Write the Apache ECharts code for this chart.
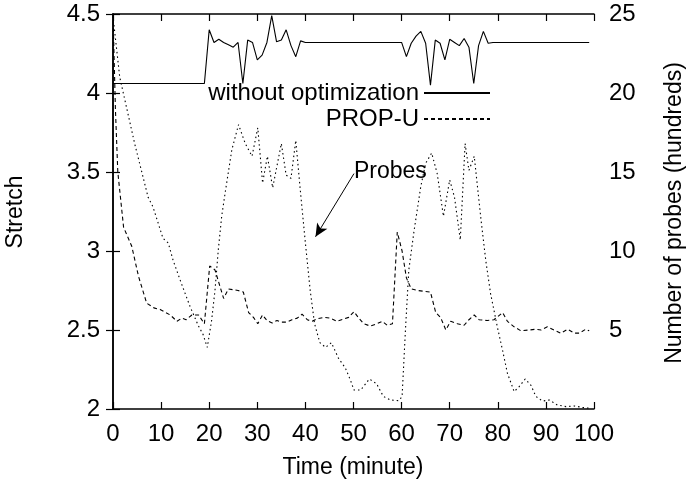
<!DOCTYPE html>
<html>
<head>
<meta charset="utf-8">
<script src="https://cdn.jsdelivr.net/npm/echarts@6/dist/echarts.min.js"></script>
<style>html,body{margin:0;padding:0;background:#fff;}#c{width:689px;height:485px;}</style>
</head>
<body>
<div id="c"></div>
<script>
// ---- data ----
var xTickLabels = ['0','10','20','30','40','50','60','70','80','90','100'];
var yTickLabels = ['2','2.5','3','3.5','4','4.5'];
var y2TickLabels = ['','5','10','15','20','25'];

// "without optimization" (left axis, Stretch)
var timeNoOpt = [0, 19, 20, 21, 22, 23, 24, 25, 26, 27, 28, 29, 30, 31, 32, 33, 34, 35, 36, 37, 38, 39, 40,
  60, 61, 62, 63, 64, 65, 66, 67, 68, 69, 70, 71, 72, 73, 74, 75, 76, 77, 78, 79, 99];
var stretchNoOpt = [4.06, 4.06, 4.40, 4.32, 4.34, 4.32, 4.305, 4.29, 4.32, 4.06, 4.335, 4.32, 4.21, 4.24, 4.32, 4.49, 4.325, 4.335, 4.40, 4.30, 4.23, 4.33, 4.32,
  4.32, 4.23, 4.315, 4.36, 4.39, 4.315, 4.05, 4.335, 4.315, 4.21, 4.34, 4.32, 4.30, 4.345, 4.29, 4.06, 4.30, 4.39, 4.315, 4.32, 4.32];

// "PROP-U" (left axis, Stretch)
var timePropU = [0, 0.5, 1, 2.2, 3.9, 5.3, 7, 8.5, 9.8, 11.9, 13.3, 14.3, 15.2, 16.4, 17.8, 19, 20.1, 21.2, 23, 24, 26, 27.1,
  28.2, 29.2, 30.1, 31.1, 32, 33.1, 34.1, 35.1, 36.2, 37.2, 38.3, 39.3, 40.4, 41.4, 42.4, 43.8, 45.2, 46.6, 48, 49, 50.1,
  51.1, 52.1, 53.5, 54.9, 56, 57, 58.1, 59.1, 60.1, 61, 62, 63.3, 66, 67.1, 68.1, 69.2, 70.2, 71.6, 73, 74, 75.1, 76.1,
  77.8, 79.2, 81, 82, 83.4, 84.8, 86.5, 87.9, 89, 90.3, 91.7, 93.1, 94.5, 95.9, 96.9, 98.3, 99];
var stretchPropU = [4.5, 3.9, 3.5, 3.15, 3.03, 2.84, 2.67, 2.64, 2.63, 2.595, 2.555, 2.575, 2.565, 2.595, 2.595, 2.54, 2.905, 2.88, 2.70, 2.76, 2.75, 2.74,
  2.61, 2.58, 2.54, 2.595, 2.56, 2.545, 2.56, 2.55, 2.55, 2.565, 2.575, 2.60, 2.565, 2.555, 2.57, 2.58, 2.575, 2.555, 2.57, 2.58, 2.616,
  2.575, 2.54, 2.525, 2.54, 2.555, 2.53, 2.54, 3.12, 3.0, 2.83, 2.76, 2.75, 2.74, 2.61, 2.58, 2.5, 2.555, 2.54, 2.53, 2.565, 2.595, 2.565,
  2.56, 2.565, 2.61, 2.555, 2.52, 2.495, 2.50, 2.505, 2.50, 2.52, 2.50, 2.48, 2.505, 2.48, 2.48, 2.505, 2.495];

// "Probes" (right axis, hundreds)
var timeProbes = [0.2, 1.4, 3.1, 4.5, 5.9, 7.3, 8.3, 10.4, 11.5, 12.5, 14.2, 16, 17.7, 18.75, 19.6, 20.5, 21.2, 21.9, 22.6, 23.3,
  24.7, 26.1, 27.5, 28.9, 30.1, 31.1, 32.1, 33.2, 35, 36, 37, 38, 39, 40, 41, 41.9, 43, 44.2, 45.4, 46.9, 48.3, 49.4, 50.1,
  51.5, 53.3, 54.8, 56.2, 57.7, 59.4, 60.1, 60.8, 61.5, 62.6, 64, 65, 66.25, 67.4, 68.7, 70, 71, 72.2, 73.2, 74, 75.1, 76.5,
  77.5, 78.5, 79.9, 81, 82, 83.4, 84.4, 85.7, 86.9, 87.9, 89.3, 90.7, 92.4, 94.2, 95.9, 97.6, 99];
var probesHundreds = [24.3, 21.0, 18.7, 16.8, 15.1, 13.4, 12.8, 10.8, 10.5, 9.4, 7.96, 6.5, 5.3, 4.7, 3.9, 5.6, 7.5, 10.1, 12.2, 13.65,
  16.4, 18.0, 16.8, 16.0, 17.8, 14.3, 16.0, 14.0, 16.8, 14.8, 14.6, 17.0, 13.65, 10.5, 7.5, 5.4, 4.2, 3.9, 4.2, 3.2, 2.6, 1.8, 1.2,
  1.2, 1.9, 1.6, 0.8, 0.57, 0.53, 0.78, 5.0, 8.8, 11.3, 14.1, 15.55, 16.2, 14.9, 12.2, 14.5, 13.4, 10.7, 16.8, 15.1, 16.0, 12.0,
  9.4, 7.3, 5.2, 3.7, 2.26, 1.1, 1.4, 1.9, 1.5, 0.8, 0.5, 0.57, 0.25, 0.15, 0.19, 0.1, 0.05];

// annotation arrow (data coordinates, left axis)
var arrowFrom = [50.1, 3.49];
var arrowTo = [42.1, 3.09];

function pairs(xs, ys) { return xs.map(function (x, i) { return [x, ys[i]]; }); }

var FONT = 'Liberation Sans';
var AX = { color: '#000', width: 1.5 };

var chart = echarts.init(document.getElementById('c'), null, { renderer: 'canvas' });
chart.setOption({
  backgroundColor: '#fff',
  animation: false,
  grid: { left: 113, right: 95, top: 14, bottom: 76 },
  legend: {
    data: ['without optimization', 'PROP-U'],
    orient: 'vertical',
    align: 'right',
    right: 198,
    top: 81,
    padding: 0,
    itemWidth: 66,
    itemHeight: 14,
    itemGap: 2,
    itemStyle: { color: 'rgba(0,0,0,0)', borderColor: 'rgba(0,0,0,0)', borderWidth: 0 },
    textStyle: { fontFamily: FONT, fontSize: 24, color: '#000' }
  },
  xAxis: [{
    type: 'value', min: 0, max: 100, interval: 10, position: 'bottom',
    axisLine: { show: true, lineStyle: AX },
    axisTick: { show: true, inside: true, length: 7, lineStyle: { color: '#000', width: 1.2 } },
    axisLabel: { fontFamily: FONT, fontSize: 24, color: '#000', margin: 13,
      formatter: function (v) { return xTickLabels[Math.round(v / 10)]; } },
    splitLine: { show: false }
  }, {
    type: 'value', min: 0, max: 100, interval: 10, position: 'top',
    axisLine: { show: true, lineStyle: AX },
    axisTick: { show: true, inside: true, length: 7, lineStyle: { color: '#000', width: 1.2 } },
    axisLabel: { show: false },
    splitLine: { show: false }
  }],
  yAxis: [{
    type: 'value', min: 2, max: 4.5, interval: 0.5, position: 'left',
    axisLine: { show: true, lineStyle: AX },
    axisTick: { show: true, inside: true, length: 7, lineStyle: { color: '#000', width: 1.2 } },
    axisLabel: { fontFamily: FONT, fontSize: 24, color: '#000', margin: 13,
      formatter: function (v) { return yTickLabels[Math.round((v - 2) / 0.5)]; } },
    splitLine: { show: false }
  }, {
    type: 'value', min: 0, max: 25, interval: 5, position: 'right',
    axisLine: { show: true, lineStyle: AX },
    axisTick: { show: true, inside: true, length: 7, lineStyle: { color: '#000', width: 1.2 } },
    axisLabel: { fontFamily: FONT, fontSize: 24, color: '#000', margin: 15,
      formatter: function (v) { return y2TickLabels[Math.round(v / 5)]; } },
    splitLine: { show: false }
  }],
  series: [{
    name: 'without optimization', type: 'line', xAxisIndex: 0, yAxisIndex: 0,
    data: pairs(timeNoOpt, stretchNoOpt), symbol: 'none', showSymbol: false,
    lineStyle: { color: '#000', width: 1.1, type: 'solid' }, itemStyle: { color: '#000' }
  }, {
    name: 'PROP-U', type: 'line', xAxisIndex: 0, yAxisIndex: 0,
    data: pairs(timePropU, stretchPropU), symbol: 'none', showSymbol: false,
    lineStyle: { color: '#000', width: 1.1, type: [4, 3] }, itemStyle: { color: '#000' },
    markLine: {
      silent: true, symbol: ['none', 'arrow'], symbolSize: [9, 13],
      label: { show: false },
      lineStyle: { color: '#000', width: 1, type: 'solid' },
      data: [[{ coord: arrowFrom }, { coord: arrowTo }]]
    }
  }, {
    name: 'Probes', type: 'line', xAxisIndex: 0, yAxisIndex: 1,
    data: pairs(timeProbes, probesHundreds), symbol: 'none', showSymbol: false,
    lineStyle: { color: '#000', width: 1.1, type: [1.5, 3] }, itemStyle: { color: '#000' }
  }],
  graphic: [{
    type: 'text', x: 16, y: 212, rotation: Math.PI / 2,
    style: { text: 'Stretch', fontFamily: FONT, fontSize: 23, fill: '#000', align: 'center', verticalAlign: 'middle' }
  }, {
    type: 'text', x: 675, y: 213, rotation: Math.PI / 2,
    style: { text: 'Number of probes (hundreds)', fontFamily: FONT, fontSize: 23, fill: '#000', align: 'center', verticalAlign: 'middle' }
  }, {
    type: 'text', x: 353, y: 468,
    style: { text: 'Time (minute)', fontFamily: FONT, fontSize: 23, fill: '#000', align: 'center', verticalAlign: 'middle' }
  }, {
    type: 'text', x: 354, y: 172,
    style: { text: 'Probes', fontFamily: FONT, fontSize: 23, fill: '#000', align: 'left', verticalAlign: 'middle' }
  }]
});
</script>
</body>
</html>
